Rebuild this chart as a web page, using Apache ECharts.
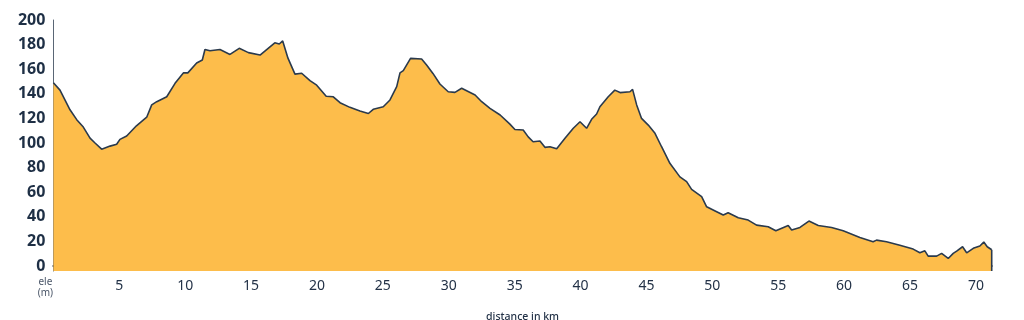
<!DOCTYPE html>
<html>
<head>
<meta charset="utf-8">
<script src="https://cdn.jsdelivr.net/npm/echarts@6/dist/echarts.min.js"></script>
<style>
html,body{margin:0;padding:0;background:#fff;}
#chart{width:1024px;height:320px;}
</style>
</head>
<body>
<div id="chart"></div>
<script>
var distanceKm = [0,0.5,1.26,1.77,2.27,2.78,3.16,3.66,4.3,4.8,5.05,5.56,6.3,7.08,7.46,7.84,8.6,9.23,9.86,10.2,10.87,11.3,11.5,11.88,12.64,13.4,14.1,14.8,15.68,16.8,17.14,17.4,17.8,18.33,18.84,19.47,19.98,20.7,21.24,21.75,22.5,23.26,23.9,24.27,25.03,25.54,26.05,26.3,26.55,27.1,27.94,28.32,28.8,29.33,29.96,30.47,30.98,32,32.5,33.13,33.9,34.64,35.02,35.65,36.03,36.4,36.92,37.3,37.68,38.19,38.82,39.45,39.96,40.46,40.84,41.22,41.47,42.1,42.6,43,43.75,43.95,44.26,44.63,45.14,45.65,46.15,46.78,47.54,48.05,48.43,49.19,49.57,50.33,50.83,51.2,51.97,52.72,53.36,54.24,54.82,55.76,56.02,56.65,57.33,58.04,59.05,59.93,61.2,62.2,62.46,63.22,64.23,65.24,65.75,66.13,66.38,67.02,67.4,67.9,68.28,68.54,68.99,69.3,69.8,70.3,70.6,70.86,71.2];
var elevationM = [149,143,127,119,113,104,100,95,97.5,99,103,105.7,114,121,131,133.6,137.6,148.5,157,157,165,167.5,176,175,176,172,177,173.5,171.5,181.5,180.5,183,169,156,156.7,150.7,147,138,137.6,132.8,129,126,124,127.4,129.5,135,145.8,157,158.8,168.8,168.3,163.4,156.6,148,141.7,141.2,144.5,139,133.6,128.2,122.8,115.4,111,110.6,105,101,101.6,96.5,97,95.4,103.8,112,117.3,112,119.3,123.6,129.5,137.6,143,141,141.7,143.6,131,120,114.6,107.9,97,83.5,72.5,68.6,62.3,56.4,48.2,44.2,41.5,43.4,39.3,37.4,33.3,32,28.7,33,29.3,31.4,36.6,33,31.4,28.7,23.3,19.8,21.1,19.8,17,13.8,10.8,12.4,8.1,8.1,10.3,6.2,10.3,12.2,15.7,10.8,14.4,16.3,19.5,15.7,13.3];
var yTickLabels = [0,20,40,60,80,100,120,140,160,180,200];
var xTickLabels = [5,10,15,20,25,30,35,40,45,50,55,60,65,70];

var profile = distanceKm.map(function(d,i){return [d, elevationM[i]];});
var yMin = -4, yMax = 200, xMax = distanceKm[distanceKm.length-1];
var endDrop = [[xMax, elevationM[elevationM.length-1]],[xMax, yMin]];

var chart = echarts.init(document.getElementById('chart'), null, {renderer:'canvas'});
chart.setOption({
  animation:false,
  grid:{left:53.4, right:32.3, top:20, bottom:49, containLabel:false, outerBoundsMode:'none'},
  xAxis:{
    type:'value', min:0, max:xMax,
    name:'distance in km', nameLocation:'middle', nameGap:41,
    nameTextStyle:{fontFamily:'Noto Sans', fontSize:10.5, color:'#233247', fontWeight:500},
    axisLine:{show:true, lineStyle:{color:'#2a3a4d', width:2}},
    axisTick:{show:false},
    splitLine:{show:false},
    axisLabel:{customValues:xTickLabels, fontFamily:'Noto Sans', fontSize:14, color:'#233247', margin:8}
  },
  yAxis:{
    type:'value', min:yMin, max:yMax,
    name:'ele\n(m)', nameLocation:'start', nameGap:6,
    nameTextStyle:{fontFamily:'Noto Sans', fontSize:10, color:'#4a5668', align:'center', verticalAlign:'top', lineHeight:11, padding:[0,16,0,0]},
    axisLine:{show:true, lineStyle:{color:'#5a6675', width:1}},
    axisTick:{show:false},
    splitLine:{show:false},
    axisLabel:{customValues:yTickLabels, fontFamily:'Noto Sans', fontSize:16, fontWeight:'bold', color:'#1e2f45', margin:8}
  },
  series:[{
    type:'line', data:profile, showSymbol:false, symbol:'none',
    lineStyle:{color:'#2a3a4d', width:1.6},
    areaStyle:{color:'#fdbd4b', opacity:1, origin:'start'},
    z:2
  },{
    type:'line', data:endDrop, showSymbol:false, symbol:'none',
    lineStyle:{color:'#2a3a4d', width:1.6}, z:3
  }]
});
</script>
</body>
</html>
